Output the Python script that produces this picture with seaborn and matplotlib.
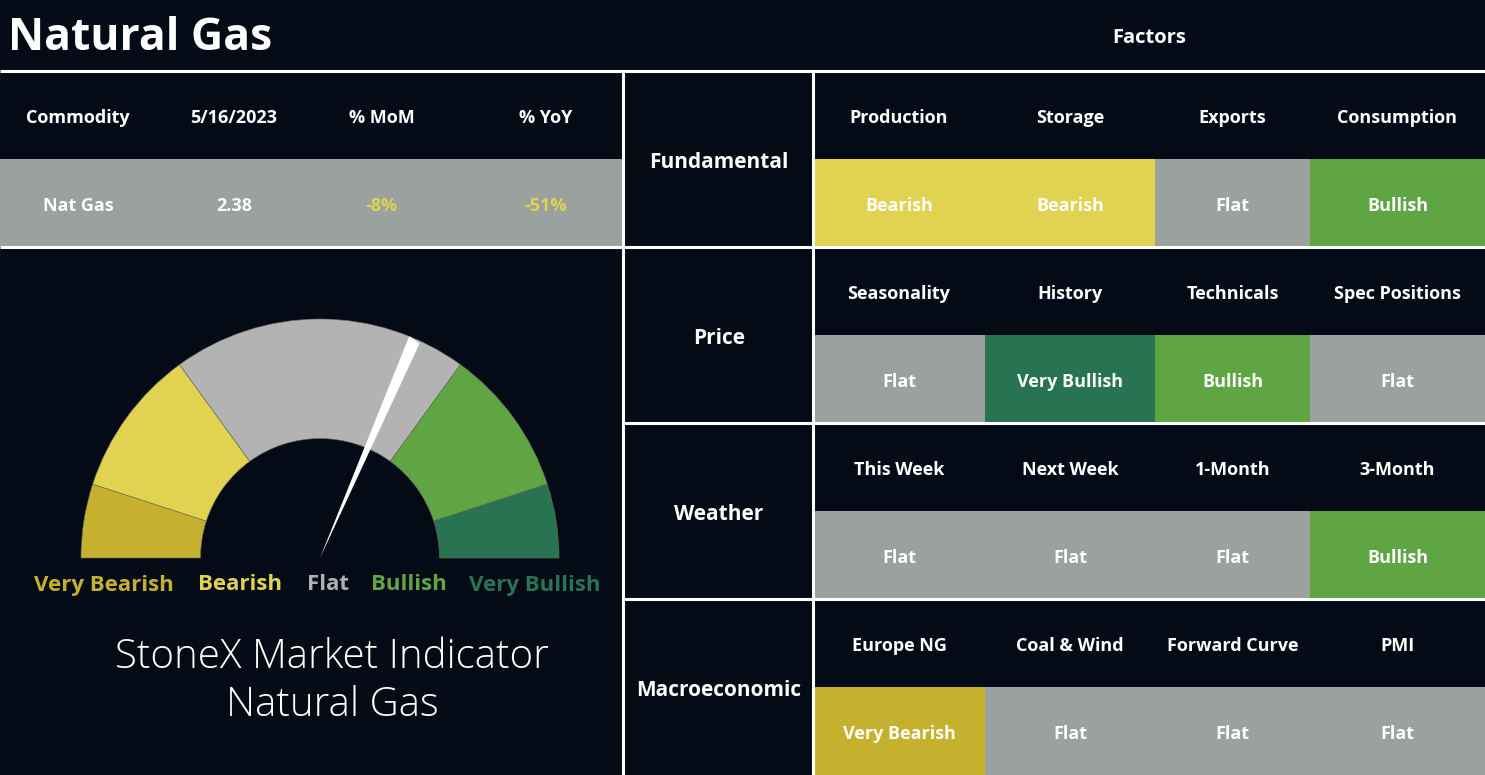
import numpy as np
import matplotlib
matplotlib.use("Agg")
import matplotlib.pyplot as plt
import seaborn as sns

# ---- data ----
title = "Natural Gas"
left_headers = ["Commodity", "5/16/2023", "% MoM", "% YoY"]
commodity = "Nat Gas"
price = 2.38
pct_mom = -8
pct_yoy = -51

groups = ["Fundamental", "Price", "Weather", "Macroeconomic"]
factors = [
    ["Production", "Storage", "Exports", "Consumption"],
    ["Seasonality", "History", "Technicals", "Spec Positions"],
    ["This Week", "Next Week", "1-Month", "3-Month"],
    ["Europe NG", "Coal & Wind", "Forward Curve", "PMI"],
]
signals = [
    ["Bearish", "Bearish", "Flat", "Bullish"],
    ["Flat", "Very Bullish", "Bullish", "Flat"],
    ["Flat", "Flat", "Flat", "Bullish"],
    ["Very Bearish", "Flat", "Flat", "Flat"],
]

gauge_labels = ["Very Bearish", "Bearish", "Flat", "Bullish", "Very Bullish"]
gauge_sizes = [1, 2, 4, 2, 1]
needle_value = 63  # 0 = very bearish, 100 = very bullish

# ---- style ----
BG = "#050b16"
sig_colors = dict(zip(
    ["Very Bearish", "Bearish", "Flat", "Bullish", "Very Bullish"],
    sns.color_palette(["#c6b12f", "#e1d252", "#9aa19f", "#5fa544", "#277352"])))
gauge_colors = sns.color_palette(["#c6b12f", "#e1d252", "#b3b3b3", "#5fa544", "#277352"])
label_colors = ["#c6b12f", "#e1d252", "#b0b0b0", "#5fa544", "#277352"]

sns.set_theme(style="dark", rc={"axes.facecolor": BG, "figure.facecolor": BG})
plt.rcParams["font.family"] = ["Open Sans", "DejaVu Sans"]

W, H = 1485, 775
fig = plt.figure(figsize=(W / 100, H / 100), dpi=100)
ax = fig.add_axes([0, 0, 1, 1])
ax.set_xlim(0, W)
ax.set_ylim(H, 0)
ax.axis("off")

# layout (pixels)
col_edges = [813, 985, 1155, 1310, 1485]
left_cols = [78, 234, 382, 546]
top = 71
block_h = 176
row_h = 88
dy = 3  # small baseline nudge

cell_kw = dict(color="white", fontsize=13, fontweight="bold", ha="center", va="center")

# title / header
ax.text(8, 39, title, color="white", fontsize=32, fontweight="bold", va="center", ha="left")
ax.text(1149, 38, "Factors", **{**cell_kw, "fontsize": 14.5})

# left table
ax.bar(311, row_h, width=622, bottom=top + row_h, color=sig_colors["Flat"],
       align="center", edgecolor="none", linewidth=0)
for x, h in zip(left_cols, left_headers):
    ax.text(x, top + row_h / 2 + dy, h, **cell_kw)
vals = [commodity, f"{price:.2f}", f"{pct_mom}%", f"{pct_yoy}%"]
vcols = ["white", "white", "#e1d252", "#e1d252"]
for x, v, c in zip(left_cols, vals, vcols):
    ax.text(x, top + row_h * 1.5 + dy, v, **{**cell_kw, "color": c})

# factor blocks
centers = [(a + b) / 2 for a, b in zip(col_edges[:-1], col_edges[1:])]
widths = [b - a for a, b in zip(col_edges[:-1], col_edges[1:])]
for g, (grp, facs, sigs) in enumerate(zip(groups, factors, signals)):
    y0 = top + g * block_h
    ax.bar(centers, row_h, width=widths, bottom=y0 + row_h,
           color=[sig_colors[s] for s in sigs], align="center", edgecolor="none", linewidth=0)
    ax.text(719, y0 + row_h + dy, grp, **{**cell_kw, "fontsize": 15})
    for cx, f, s in zip(centers, facs, sigs):
        ax.text(cx, y0 + row_h / 2 + dy, f, **cell_kw)
        ax.text(cx, y0 + row_h * 1.5 + dy, s, **cell_kw)

# grid lines
lw = 2.2
ax.hlines(top, 0, W, color="white", lw=lw)
ax.hlines(top + block_h, 0, W, color="white", lw=lw)
ax.hlines([top + 2 * block_h, top + 3 * block_h], 623, W, color="white", lw=lw)
ax.vlines([623, 813], top, H, color="white", lw=lw)

# gauge
cx, cy, R = 320, 558, 239
gl, gr, gt, gb = 60, 580, 300, 600
gax = fig.add_axes([gl / W, 1 - gb / H, (gr - gl) / W, (gb - gt) / H])
gax.pie(gauge_sizes + [sum(gauge_sizes)], colors=list(gauge_colors) + [BG],
        startangle=180, counterclock=False, radius=1,
        wedgeprops=dict(width=0.5, edgecolor="#6b6b55", linewidth=0.4))
gax.patches[-1].set_visible(False)
gax.set_xlim((gl - cx) / R, (gr - cx) / R)
gax.set_ylim(-(gb - cy) / R, (cy - gt) / R)
gax.set_aspect("auto")
gax.axis("off")

theta = np.pi * (1 - needle_value / 100)
d = np.array([np.cos(theta), np.sin(theta)])
p = np.array([-d[1], d[0]])
hw = 0.026
tip1 = d * 1.0 + p * hw
tip2 = d * 0.99 - p * hw
gax.fill([0, tip1[0], tip2[0]], [0, tip1[1], tip2[1]], color="white", zorder=5, lw=0)

label_x = [104, 240, 328, 409, 535]
for x, t, c in zip(label_x, gauge_labels, label_colors):
    ax.text(x, 585, t, color=c, fontsize=16, fontweight="bold", ha="center", va="center")

ax.text(332, 657, "StoneX Market Indicator", color="white", fontsize=29, fontweight="light", ha="center", va="center")
ax.text(332, 706, "Natural Gas", color="white", fontsize=29, fontweight="light", ha="center", va="center")

fig.savefig("out.png", dpi=100, facecolor=BG)
